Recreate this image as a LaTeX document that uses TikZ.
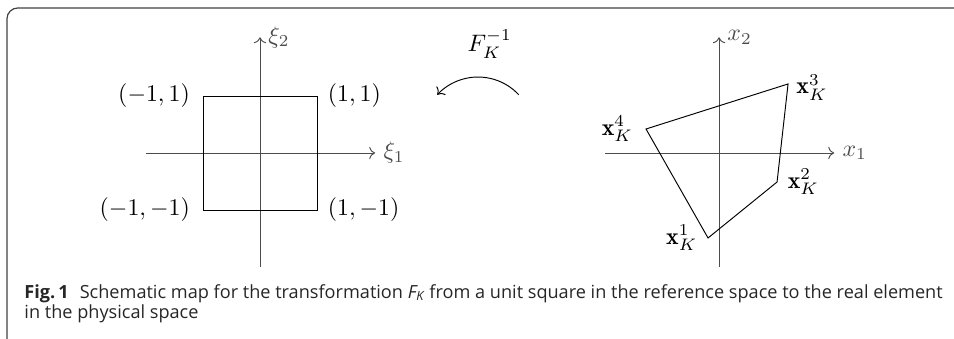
\documentclass[tikz,border=0pt]{standalone}
\usepackage{amsmath,amssymb}
\usepackage{fontspec}
\newfontfamily\capfont{Open Sans}
\usepackage{tikz}
\usetikzlibrary{arrows.meta,positioning,calc}

\begin{document}
\begin{tikzpicture}[x=0.84cm,y=0.84cm,
    axis/.style={->,black!70},
    elem/.style={black,line join=miter},
    captext/.style={anchor=base west,inner sep=0,text=black!85,
      font=\capfont\fontsize{7.6}{8.4}\selectfont}]
  \useasboundingbox (-4.561,-3.263) rectangle (12.175,2.684);
  % frame of the figure
  \draw[black!75,line width=0.5pt,rounded corners=1.6mm] (-4.439,-3.6) -- (-4.439,2.544) -- (12.5,2.544);

  % reference element
  \coordinate (rO) at (0,0);
  \draw[axis] (-2,0) -- (2.02,0) node[right] (xi1) {$\xi_1$};
  \draw[axis] (0,-2) -- (0,2.03) node[right] (xi2) {$\xi_2$};
  \coordinate (s1) at (-1,-1); \coordinate (s2) at (1,-1);
  \coordinate (s3) at (1,1);   \coordinate (s4) at (-1,1);
  \draw[elem] (s1) -- (s2) -- (s3) -- (s4) -- cycle;
  \node[left=2pt]  (ls1) at (s1) {$(-1,-1)$};
  \node[right=1pt] (ls2) at (s2) {$(1,-1)$};
  \node[right=1pt] (ls3) at (s3) {$(1,1)$};
  \node[left=2pt]  (ls4) at (s4) {$(-1,1)$};

  % inverse map
  \node (Finv) at (4.03,1.91) {$F_K^{-1}$};
  \coordinate (arcR) at (4.539,1.022);
  \draw[->] (arcR) arc[start angle=43,end angle=137,radius=0.977];

  % physical element
  \begin{scope}[shift={(8.053,0)}]
    \draw[axis] (-2,0) -- (2.02,0) node[right] (x1) {$x_1$};
    \draw[axis] (0,-2) -- (0,2.03) node[right] (x2) {$x_2$};
    \coordinate (p1) at (-0.193,-1.491); \coordinate (p2) at (1.018,-0.509);
    \coordinate (p3) at (1.211,1.211);   \coordinate (p4) at (-1.281,0.421);
    \draw[elem] (p1) -- (p2) -- (p3) -- (p4) -- cycle;
    \node[left=1pt]  (lp1) at (p1) {$\mathbf{x}_K^1$};
    \node[right=1pt] (lp2) at (p2) {$\mathbf{x}_K^2$};
    \node[right=0pt,yshift=-1.5pt] (lp3) at (p3) {$\mathbf{x}_K^3$};
    \node[left=2pt]  (lp4) at (p4) {$\mathbf{x}_K^4$};
  \end{scope}

  % caption
  \node[captext] (cap1) at (-4.14,-2.544)
    {\textbf{Fig.\,1}\hspace{0.35em} Schematic map for the transformation {\itshape F\textsubscript{K}} from a unit square in the reference space to the real element};
  \node[captext] (cap2) at (-4.14,-2.895) {in the physical space};
\end{tikzpicture}
\end{document}
